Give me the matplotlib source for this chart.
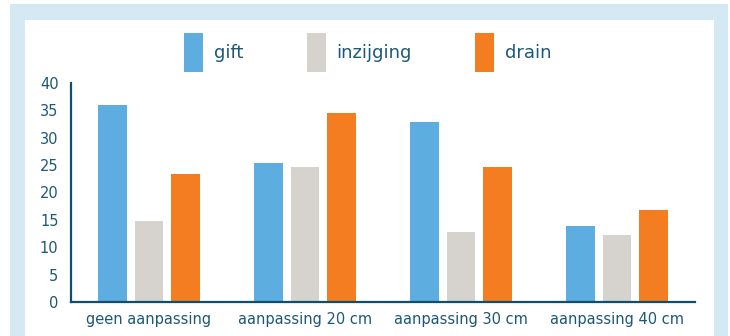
import matplotlib

matplotlib.use("Agg")
import matplotlib.pyplot as plt
import numpy as np
from matplotlib.patches import Rectangle

categories = ["geen aanpassing", "aanpassing 20 cm", "aanpassing 30 cm", "aanpassing 40 cm"]
series = ["gift", "inzijging", "drain"]
gift = [36.0, 25.4, 32.9, 13.9]
inzijging = [14.8, 24.7, 12.8, 12.2]
drain = [23.4, 34.5, 24.7, 16.8]
yticks = [0, 5, 10, 15, 20, 25, 30, 35, 40]

colors = ["#5dade0", "#d6d2ce", "#f47d22"]
text_color = "#1d5878"
axis_color = "#0d4f6e"
frame_color = "#d4e9f4"

W, H = 730, 336
fig = plt.figure(figsize=(W / 100, H / 100), dpi=100, facecolor="white")

# light blue frame with a white panel inside
fig.patches.append(Rectangle((10 / W, 0), 718 / W, (H - 4) / H, transform=fig.transFigure,
                             facecolor=frame_color, edgecolor="none", zorder=-2))
fig.patches.append(Rectangle((25 / W, 0), 689 / W, (H - 20) / H, transform=fig.transFigure,
                             facecolor="white", edgecolor="none", zorder=-1))

ax = fig.add_axes([71 / W, (H - 302) / H, (695 - 71) / W, (302 - 83) / H])
ax.set_zorder(1)
ax.set_facecolor("none")

x = np.arange(len(categories))
width = 0.18
offset = 0.234
handles = []
for i, (vals, label) in enumerate(zip([gift, inzijging, drain], series)):
    b = ax.bar(x + (i - 1) * offset, vals, width, color=colors[i], label=label, zorder=2)
    handles.append(b)

ax.set_xlim(-0.5, 3.5)
ax.set_ylim(0, 40)
ax.set_yticks(yticks)
ax.set_xticks(x)
ax.set_xticklabels(categories)
ax.tick_params(axis="both", length=0, labelsize=10.5, colors=text_color)
ax.tick_params(axis="y", pad=9)
ax.tick_params(axis="x", pad=7)
for side in ("top", "right"):
    ax.spines[side].set_visible(False)
for side in ("left", "bottom"):
    ax.spines[side].set_color(axis_color)
    ax.spines[side].set_linewidth(1.6)

fs = 13
fs_px = fs * 100 / 72
leg = fig.legend(handles=handles, labels=series, loc="upper left", ncol=3, frameon=False,
                 bbox_to_anchor=(184 / W, 1 - 33 / H), borderaxespad=0, borderpad=0,
                 fontsize=fs, labelcolor=text_color,
                 handlelength=19 / fs_px, handleheight=(39 / fs_px - 0.245) / 0.65,
                 handletextpad=0.61, columnspacing=3.5)
leg.set_zorder(2)

fig.savefig("out.png", dpi=100, facecolor="white")
